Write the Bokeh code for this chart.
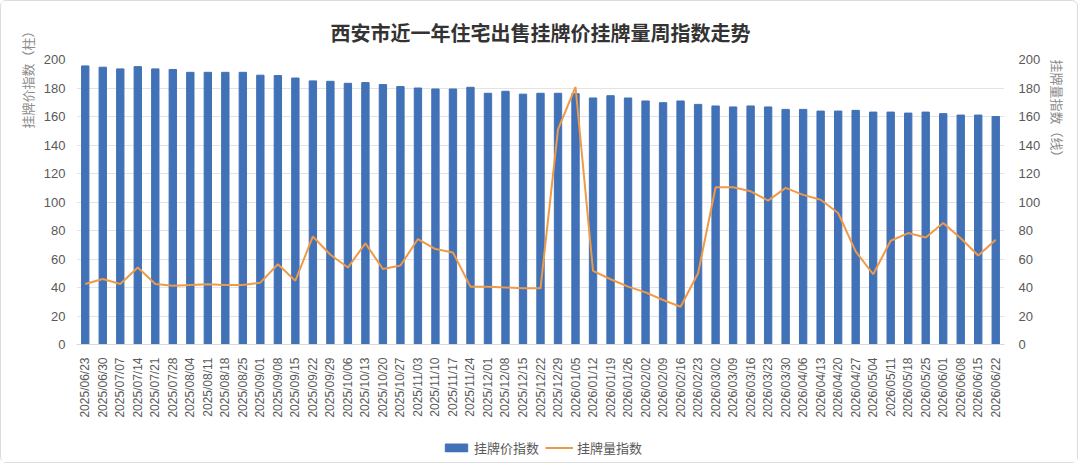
import math
from bokeh.plotting import figure
from bokeh.layouts import column
from bokeh.models import (FactorRange, Range1d, LinearAxis, Legend, LegendItem,
                          Title, SingleIntervalTicker, ColumnDataSource)
from bokeh.embed import file_html
from bokeh.resources import INLINE

dates = ["2025/06/23", "2025/06/30", "2025/07/07", "2025/07/14", "2025/07/21", "2025/07/28",
         "2025/08/04", "2025/08/11", "2025/08/18", "2025/08/25", "2025/09/01", "2025/09/08",
         "2025/09/15", "2025/09/22", "2025/09/29", "2025/10/06", "2025/10/13", "2025/10/20",
         "2025/10/27", "2025/11/03", "2025/11/10", "2025/11/17", "2025/11/24", "2025/12/01",
         "2025/12/08", "2025/12/15", "2025/12/22", "2025/12/29", "2026/01/05", "2026/01/12",
         "2026/01/19", "2026/01/26", "2026/02/02", "2026/02/09", "2026/02/16", "2026/02/23",
         "2026/03/02", "2026/03/09", "2026/03/16", "2026/03/23", "2026/03/30", "2026/04/06",
         "2026/04/13", "2026/04/20", "2026/04/27", "2026/05/04", "2026/05/11", "2026/05/18",
         "2026/05/25", "2026/06/01", "2026/06/08", "2026/06/15", "2026/06/22"]

price_index = [195.5, 194.6, 193.4, 195.0, 193.4, 193.0, 191.0, 191.0, 191.0, 191.0,
               189.0, 188.7, 187.0, 185.0, 184.7, 183.3, 183.8, 182.4, 181.0, 180.0,
               179.3, 179.3, 180.5, 176.3, 177.7, 175.7, 176.3, 176.3, 176.0, 173.0,
               174.6, 173.0, 170.9, 169.7, 170.9, 168.5, 167.4, 166.7, 167.4, 166.7,
               165.0, 165.0, 163.8, 163.8, 164.3, 163.1, 163.1, 162.4, 163.1, 162.0,
               161.0, 161.0, 160.0]

volume_index = [42.5, 46.0, 42.5, 54.0, 42.5, 41.3, 41.8, 42.3, 41.8, 41.8,
                43.4, 56.3, 44.8, 75.8, 63.0, 54.0, 71.0, 53.0, 55.4, 74.0,
                67.0, 64.6, 40.6, 40.6, 40.0, 39.4, 39.4, 151.0, 180.7, 51.6,
                45.8, 40.6, 36.6, 31.2, 26.5, 50.0, 110.3, 110.3, 107.5, 101.0,
                109.9, 105.0, 101.6, 92.3, 65.3, 49.3, 72.8, 78.2, 75.1, 85.2,
                74.6, 62.4, 73.5]

title_text = "西安市近一年住宅出售挂牌价挂牌量周指数走势"
left_title = "挂牌价指数（柱）"
right_title = "挂牌量指数（线）"
bar_name = "挂牌价指数"
line_name = "挂牌量指数"

CJK = "Noto Sans CJK SC"
NUM = "Liberation Sans"
BAR_COLOR = "#4171B6"
LINE_COLOR = "#EE9A48"
TXT = "#595959"

src = ColumnDataSource(dict(d=dates, price=price_index, vol=volume_index))

p = figure(x_range=FactorRange(*dates, range_padding=0.0), y_range=Range1d(0, 200),
           frame_width=928, frame_height=285, output_backend="svg", toolbar_location=None,
           min_border_left=75, min_border_right=69, min_border_top=58, min_border_bottom=88)

p.title.text = title_text
p.title.align = "center"
p.title.text_font = CJK
p.title.text_font_size = "20px"
p.title.text_font_style = "bold"
p.title.text_color = "#333333"
p.title.standoff = 26

p.extra_y_ranges = {"y2": Range1d(0, 200)}

bars = p.vbar(x="d", top="price", width=0.42, source=src, color=BAR_COLOR)
line = p.line(x="d", y="vol", source=src, line_color=LINE_COLOR, line_width=2.0,
              y_range_name="y2")

# left axis
ya = p.yaxis[0]
ya.ticker = SingleIntervalTicker(interval=20)
ya.axis_line_color = None
ya.major_tick_line_color = None
ya.minor_tick_line_color = None
ya.major_label_text_font = NUM
ya.major_label_text_font_size = "13px"
ya.major_label_text_color = TXT
ya.major_label_standoff = 5

# right axis
ra = LinearAxis(y_range_name="y2", ticker=SingleIntervalTicker(interval=20))
ra.axis_line_color = None
ra.major_tick_line_color = None
ra.minor_tick_line_color = None
ra.major_label_text_font = NUM
ra.major_label_text_font_size = "13px"
ra.major_label_text_color = TXT
ra.major_label_standoff = 8
p.add_layout(ra, "right")

# x axis
xa = p.xaxis[0]
xa.major_label_orientation = math.pi / 2
xa.major_label_text_font = NUM
xa.major_label_text_font_size = "12px"
xa.major_label_text_color = TXT
xa.axis_line_color = "#d9d9d9"
xa.major_tick_line_color = None
xa.minor_tick_line_color = None
xa.major_label_standoff = 7

p.xgrid.grid_line_color = None
p.ygrid.grid_line_color = "#e3e3e3"
p.ygrid.ticker = SingleIntervalTicker(interval=20)
p.outline_line_color = None

# axis titles placed at the top end of each side
p.add_layout(Title(text=left_title, align="right", text_font=CJK, text_font_size="13px",
                   text_font_style="normal", text_color="#8c8c8c", standoff=8,
                   offset=-35), "left")
p.add_layout(Title(text=right_title, align="left", text_font=CJK, text_font_size="13px",
                   text_font_style="normal", text_color="#8c8c8c", standoff=8), "right")

# legend row below the chart (its renderers use the same data, out of view)
lg = figure(width=1076, height=30, x_range=FactorRange(*dates, range_padding=0.0),
            y_range=Range1d(1000, 1001),
            output_backend="svg", toolbar_location=None,
            x_axis_location=None, y_axis_location=None, min_border=0)
lg.grid.grid_line_color = None
lg.outline_line_color = None
lg_bar = lg.vbar(x="d", top="price", width=0.42, source=src, color=BAR_COLOR)
lg_line = lg.line(x="d", y="vol", source=src, line_color=LINE_COLOR, line_width=2.0)

legend = Legend(items=[LegendItem(label=bar_name, renderers=[lg_bar]),
                       LegendItem(label=line_name, renderers=[lg_line])],
                orientation="horizontal", location="center",
                label_text_font=CJK, label_text_font_size="13px", label_text_color=TXT,
                glyph_width=28, glyph_height=10, spacing=6, label_standoff=4,
                border_line_color=None, background_fill_alpha=0, margin=0, padding=2)
lg.add_layout(legend)

layout = column(p, lg, styles={"border": "1px solid #dcdcdc", "border-radius": "6px"})

open("out.html", "w").write(file_html(layout, INLINE))
